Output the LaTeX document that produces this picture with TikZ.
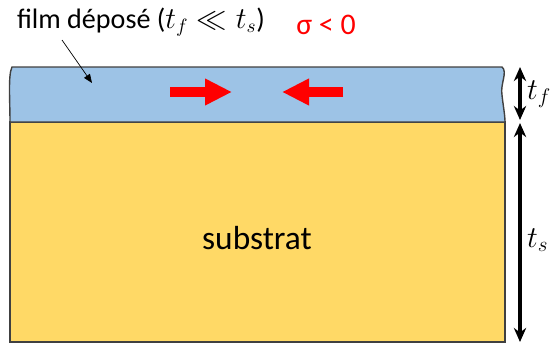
\documentclass[tikz,border=0pt]{standalone}
\usepackage{fontspec}
\setmainfont{Carlito}
\usetikzlibrary{arrows.meta, positioning}
\definecolor{filmcolor}{RGB}{157, 195, 230}
\definecolor{subcolor}{RGB}{255, 217, 102}
\definecolor{edgecolor}{RGB}{64, 64, 64}
\definecolor{stresscolor}{RGB}{255, 0, 0}
\tikzstyle{label} = [
    font=\fontsize{16}{19}\selectfont,
    inner sep=1pt
]
\tikzstyle{stress} = [
    line width=0.2cm,
    color=stresscolor,
    -{Triangle[length=0.54cm, width=0.5cm]}
]
\tikzstyle{dim} = [
    line width=1.8pt,
    {Stealth[length=8pt, width=7pt]}-{Stealth[length=8pt, width=7pt]}
]

\begin{document}
\begin{tikzpicture}[x=0.02cm, y=-0.02cm]
\useasboundingbox (0, 0) rectangle (550, 345);

% Substrate
\draw[fill=subcolor, draw=edgecolor, line width=0.8pt] (10, 122) rectangle (505, 342);

% Film
\draw[fill=filmcolor, draw=edgecolor, line width=0.8pt]
    (12, 67) -- (502, 67) .. controls (508, 72) and (500, 84) .. (502, 95)
    .. controls (503, 105) and (505, 115) .. (505, 122) -- (10, 122)
    .. controls (10, 100) and (8, 75) .. (12, 67) -- cycle;

% Labels
\node[label] (filmlabel) at (141, 22) {film déposé ($t_f \ll t_s$)};
\node[label, text=stresscolor, font=\fontsize{17}{20}\selectfont] (sigma) at (326, 25) {σ < 0};
\node[label, font=\fontsize{19}{22}\selectfont] (substrat) at (257, 238) {substrat};
\coordinate (filmpoint) at (92, 83);
\draw[-{Triangle[length=5pt, width=4pt]}, line width=0.4pt] (62, 40) -- (filmpoint);

% Compressive stress arrows
\coordinate (leftstart) at (170, 92);
\coordinate (leftend) at (232, 92);
\coordinate (rightstart) at (343, 92);
\coordinate (rightend) at (282, 92);
\draw[stress] (leftstart) -- (leftend);
\draw[stress] (rightstart) -- (rightend);

% Thicknesses
\coordinate (ftop) at (520, 67);
\coordinate (fbot) at (520, 120);
\coordinate (stop) at (520, 123);
\coordinate (sbot) at (520, 342);
\draw[dim] (ftop) -- (fbot);
\draw[dim] (stop) -- (sbot);
\node[label, font=\fontsize{18}{21}\selectfont, anchor=west] (tf) at (525, 94) {$t_f$};
\node[label, font=\fontsize{18}{21}\selectfont, anchor=west] (ts) at (525, 240) {$t_s$};

\end{tikzpicture}
\end{document}
